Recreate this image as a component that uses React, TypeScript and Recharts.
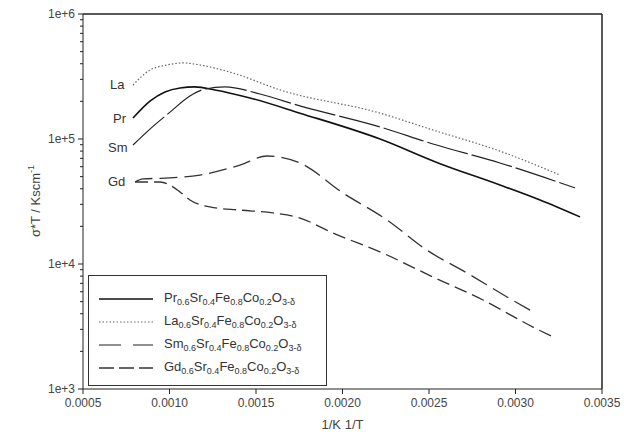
import { LineChart, Line, XAxis, YAxis, ReferenceLine, Legend } from "recharts";

// values (x = 1/T, y = sigma*T)
const prX = [0.000789, 0.000887, 0.000974, 0.001061, 0.001147, 0.001263, 0.001465, 0.001754, 0.002217, 0.002564, 0.00291, 0.003142, 0.003373];
const prY = [147000, 201000, 238000, 256000, 261000, 247000, 213000, 161000, 100000, 63500, 42900, 32500, 23800];

const laX = [0.000789, 0.000887, 0.000986, 0.001078, 0.001176, 0.001367, 0.001639, 0.002217, 0.002523, 0.00291, 0.003257];
const laY = [270000, 356000, 391000, 406000, 391000, 337000, 247000, 161000, 118000, 80000, 51500];

const smX = [0.000789, 0.000887, 0.001003, 0.001118, 0.001205, 0.001321, 0.001523, 0.001754, 0.002217, 0.002523, 0.00291, 0.003344];
const smY = [89500, 120000, 164000, 221000, 251000, 261000, 229000, 184000, 125000, 91200, 64300, 40600];

const gdX = [0.000801, 0.000847, 0.001003, 0.001176, 0.001408, 0.001564, 0.001754, 0.002003, 0.002257, 0.002488, 0.00272, 0.002951, 0.003113];
const gdY = [45300, 47900, 48800, 51500, 61900, 73100, 64300, 37000, 22500, 12900, 8470, 5450, 4060];

const gd2X = [0.000801, 0.000945, 0.001061, 0.001118, 0.001234, 0.001408, 0.001598, 0.001754, 0.001945, 0.002234, 0.002523, 0.002812, 0.003101, 0.003217];
const gd2Y = [45300, 45300, 37700, 32500, 28600, 27000, 25600, 23300, 17700, 12200, 7870, 5150, 3130, 2610];

const xTicks = [0.0005, 0.001, 0.0015, 0.002, 0.0025, 0.003, 0.0035];
const yMajor = [1000, 10000, 100000, 1000000];
const yTicks = [
  1000, 2000, 3000, 4000, 5000, 6000, 7000, 8000, 9000,
  10000, 20000, 30000, 40000, 50000, 60000, 70000, 80000, 90000,
  100000, 200000, 300000, 400000, 500000, 600000, 700000, 800000, 900000,
  1000000,
];

const zip = (xs: number[], ys: number[]) => xs.map((x, i) => ({ x, y: ys[i] }));

const font = "'Liberation Sans', Arial, sans-serif";
const ink = "#222";
const AXIS_X = 83;

const series = [
  { name: "Pr", data: zip(prX, prY), dash: undefined, width: 1.6, color: "#111", legDash: undefined },
  { name: "La", data: zip(laX, laY), dash: "1.5 2", width: 1.2, color: "#666", legDash: "1.5 2" },
  { name: "Sm", data: zip(smX, smY), dash: "42 4", width: 1.2, color: "#222", legDash: "22 12" },
  { name: "Gd", data: zip(gdX, gdY), dash: "18 7", width: 1.3, color: "#333", legDash: "15 5" },
];

function YTick(props: any) {
  const { y, payload } = props;
  const major = yMajor.includes(payload.value);
  const exp = Math.round(Math.log10(payload.value));
  return (
    <g>
      <line x1={AXIS_X} x2={AXIS_X - (major ? 5 : 3)} y1={y} y2={y} stroke={ink} />
      {major && (
        <text x={AXIS_X - 8} y={y} dy={4} textAnchor="end" fontSize={12} fill="#444" fontFamily={font}>
          {`1e+${exp}`}
        </text>
      )}
    </g>
  );
}

function YTitle() {
  return (
    <text transform="translate(40,201) rotate(-90)" textAnchor="middle" fontSize={13} fill="#444" fontFamily={font}>
      σ*T / Kscm<tspan fontSize={9} dy={-6}>-1</tspan>
    </text>
  );
}

function Formula({ el }: { el: string }) {
  const s = { fontSize: 9, verticalAlign: "-3px" } as const;
  return (
    <span>
      {el}<span style={s}>0.6</span>Sr<span style={s}>0.4</span>Fe<span style={s}>0.8</span>Co<span style={s}>0.2</span>O<span style={s}>3-δ</span>
    </span>
  );
}

function LegendBox() {
  return (
    <div
      style={{
        width: 239,
        height: 111,
        boxSizing: "border-box",
        border: "1px solid #333",
        padding: "11px 0 0 10px",
        fontFamily: font,
        fontSize: 13,
        color: "#333",
        background: "#fff",
      }}
    >
      {series.map((s) => (
        <div key={s.name} style={{ display: "flex", alignItems: "center", height: 23 }}>
          <svg width={54} height={10} style={{ marginRight: 11 }}>
            <line x1={0} x2={54} y1={5} y2={5} stroke={s.color} strokeWidth={s.width} strokeDasharray={s.legDash} />
          </svg>
          <Formula el={s.name} />
        </div>
      ))}
    </div>
  );
}

export default function App() {
  return (
    <div style={{ position: "absolute", left: 0, top: 0, width: 624, height: 439, background: "#fff" }}>
      <LineChart width={624} height={439} margin={{ top: 14, right: 22, bottom: 5, left: 23 }}>
        <XAxis
          dataKey="x"
          type="number"
          domain={[0.0005, 0.0035]}
          ticks={xTicks}
          interval={0}
          allowDuplicatedCategory={false}
          tickFormatter={(v: number) => v.toFixed(4)}
          tick={{ fontSize: 12, fill: "#444", fontFamily: font }}
          stroke={ink}
          tickSize={5}
          tickMargin={4}
          height={45}
          label={{ value: "1/K 1/T", position: "insideBottom", offset: 5, fontSize: 13, fill: "#444", fontFamily: font }}
        />
        <YAxis
          type="number"
          scale="log"
          domain={[1000, 1000000]}
          allowDataOverflow
          ticks={yTicks}
          interval={0}
          width={60}
          stroke={ink}
          tickLine={false}
          tick={<YTick />}
          label={<YTitle />}
        />
        <ReferenceLine y={1000000} stroke={ink} strokeWidth={1.5} ifOverflow="visible" />
        <ReferenceLine x={0.0035} stroke={ink} strokeWidth={1.5} ifOverflow="visible" />
        {series.map((s) => (
          <Line
            key={s.name}
            data={s.data}
            dataKey="y"
            name={s.name}
            type="monotone"
            stroke={s.color}
            strokeWidth={s.width}
            strokeDasharray={s.dash}
            dot={false}
            isAnimationActive={false}
          />
        ))}
        <Line
          data={zip(gd2X, gd2Y)}
          dataKey="y"
          name="Gd2"
          type="monotone"
          stroke="#333"
          strokeWidth={1.3}
          strokeDasharray="13 6"
          dot={false}
          legendType="none"
          isAnimationActive={false}
        />
        <text x={110} y={89} fontSize={13} fill="#333" fontFamily={font}>La</text>
        <text x={113} y={123} fontSize={13} fill="#333" fontFamily={font}>Pr</text>
        <text x={108} y={152} fontSize={13} fill="#333" fontFamily={font}>Sm</text>
        <text x={108} y={186} fontSize={13} fill="#333" fontFamily={font}>Gd</text>
        <Legend
          layout="horizontal"
          verticalAlign="middle"
          align="center"
          content={() => <LegendBox />}
          wrapperStyle={{ left: 88, top: 275, width: 239, height: 111 }}
        />
      </LineChart>
    </div>
  );
}
